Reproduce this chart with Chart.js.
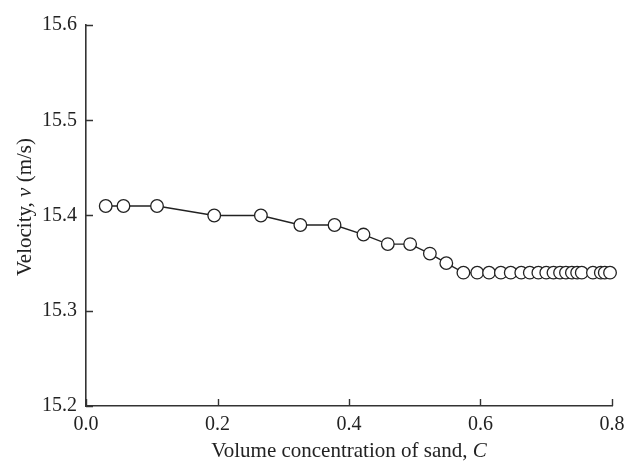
<!DOCTYPE html>
<html>
<head>
<meta charset="utf-8">
<script src="https://cdn.jsdelivr.net/npm/chart.js@4.4.1/dist/chart.umd.min.js"></script>
<style>
  html, body { margin: 0; padding: 0; background: #fff; }
  #wrap { width: 636px; height: 464px; }
</style>
</head>
<body>
<div id="wrap"><canvas id="c"></canvas></div>
<script>
// sand volume concentration C and velocity v (m/s)
const concentration = [
  0.030, 0.057, 0.108, 0.195, 0.266, 0.326, 0.378, 0.422, 0.459, 0.493,
  0.523, 0.548, 0.574, 0.595, 0.613, 0.631, 0.646, 0.662, 0.675, 0.688,
  0.700, 0.711, 0.721, 0.730, 0.739, 0.747, 0.754, 0.771, 0.783, 0.789, 0.797
];
const velocity = [
  15.41, 15.41, 15.41, 15.40, 15.40, 15.39, 15.39, 15.38, 15.37, 15.37,
  15.36, 15.35, 15.34, 15.34, 15.34, 15.34, 15.34, 15.34, 15.34, 15.34,
  15.34, 15.34, 15.34, 15.34, 15.34, 15.34, 15.34, 15.34, 15.34, 15.34, 15.34
];
const xTicks = [0.0, 0.2, 0.4, 0.6, 0.8];
const yTicks = [15.2, 15.3, 15.4, 15.5, 15.6];

const FONT = '"Liberation Serif", "DejaVu Serif", serif';
const INK = '#333';

// inward tick marks + axis titles (titles need an italic letter, so drawn by hand)
const axisExtras = {
  id: 'axisExtras',
  afterDraw(chart) {
    const { ctx, chartArea: a, scales: { x, y } } = chart;
    ctx.save();
    ctx.strokeStyle = INK;
    ctx.lineWidth = 1.4;
    ctx.beginPath();
    xTicks.forEach(v => {
      const px = Math.round(x.getPixelForValue(v)) + 0.5;
      ctx.moveTo(px, a.bottom); ctx.lineTo(px, a.bottom - 7);
    });
    yTicks.forEach(v => {
      const py = Math.round(y.getPixelForValue(v)) + 0.5;
      ctx.moveTo(a.left, py); ctx.lineTo(a.left + 7, py);
    });
    ctx.stroke();

    // mixed upright / italic title pieces
    const drawParts = (parts, cx, cy) => {
      let total = 0;
      parts.forEach(p => { ctx.font = (p[1] ? 'italic ' : '') + '21px ' + FONT; total += ctx.measureText(p[0]).width; });
      let px = cx - total / 2;
      ctx.textBaseline = 'alphabetic';
      ctx.textAlign = 'left';
      parts.forEach(p => {
        ctx.font = (p[1] ? 'italic ' : '') + '21px ' + FONT;
        ctx.fillText(p[0], px, cy);
        px += ctx.measureText(p[0]).width;
      });
    };
    ctx.fillStyle = '#222';
    drawParts([['Volume concentration of sand, ', false], ['C', true]], (a.left + a.right) / 2, 457);
    ctx.translate(31, 207);
    ctx.rotate(-Math.PI / 2);
    drawParts([['Velocity, ', false], ['v', true], [' (m/s)', false]], 0, 0);
    ctx.restore();
  }
};

new Chart(document.getElementById('c'), {
  type: 'scatter',
  data: {
    datasets: [{
      data: concentration.map((c, i) => ({ x: c, y: velocity[i] })),
      showLine: true,
      clip: false,
      borderColor: '#222',
      borderWidth: 1.4,
      pointRadius: 6.3,
      pointHoverRadius: 6.3,
      pointBackgroundColor: '#fff',
      pointBorderColor: '#222',
      pointBorderWidth: 1.3,
      tension: 0
    }]
  },
  options: {
    responsive: true,
    maintainAspectRatio: false,
    animation: false,
    layout: { padding: { top: 25, right: 24, left: 0, bottom: 0 } },
    plugins: { legend: { display: false }, tooltip: { enabled: false } },
    scales: {
      x: {
        type: 'linear',
        min: 0, max: 0.8,
        afterBuildTicks: s => { s.ticks = xTicks.map(v => ({ value: v })); },
        afterFit: s => { s.height = 58; },
        grid: { display: false, drawTicks: false },
        border: { display: true, color: INK, width: 1.6 },
        ticks: { padding: 7, color: '#222', font: { family: FONT, size: 20 }, callback: v => v.toFixed(1), maxRotation: 0 }
      },
      y: {
        type: 'linear',
        min: 15.2, max: 15.6,
        afterBuildTicks: s => { s.ticks = yTicks.map(v => ({ value: v })); },
        afterFit: s => { s.width = 86; },
        grid: { display: false, drawTicks: false },
        border: { display: true, color: INK, width: 1.6 },
        ticks: { padding: 9, color: '#222', font: { family: FONT, size: 20 }, callback: v => v.toFixed(1) }
      }
    }
  },
  plugins: [axisExtras]
});
</script>
</body>
</html>
